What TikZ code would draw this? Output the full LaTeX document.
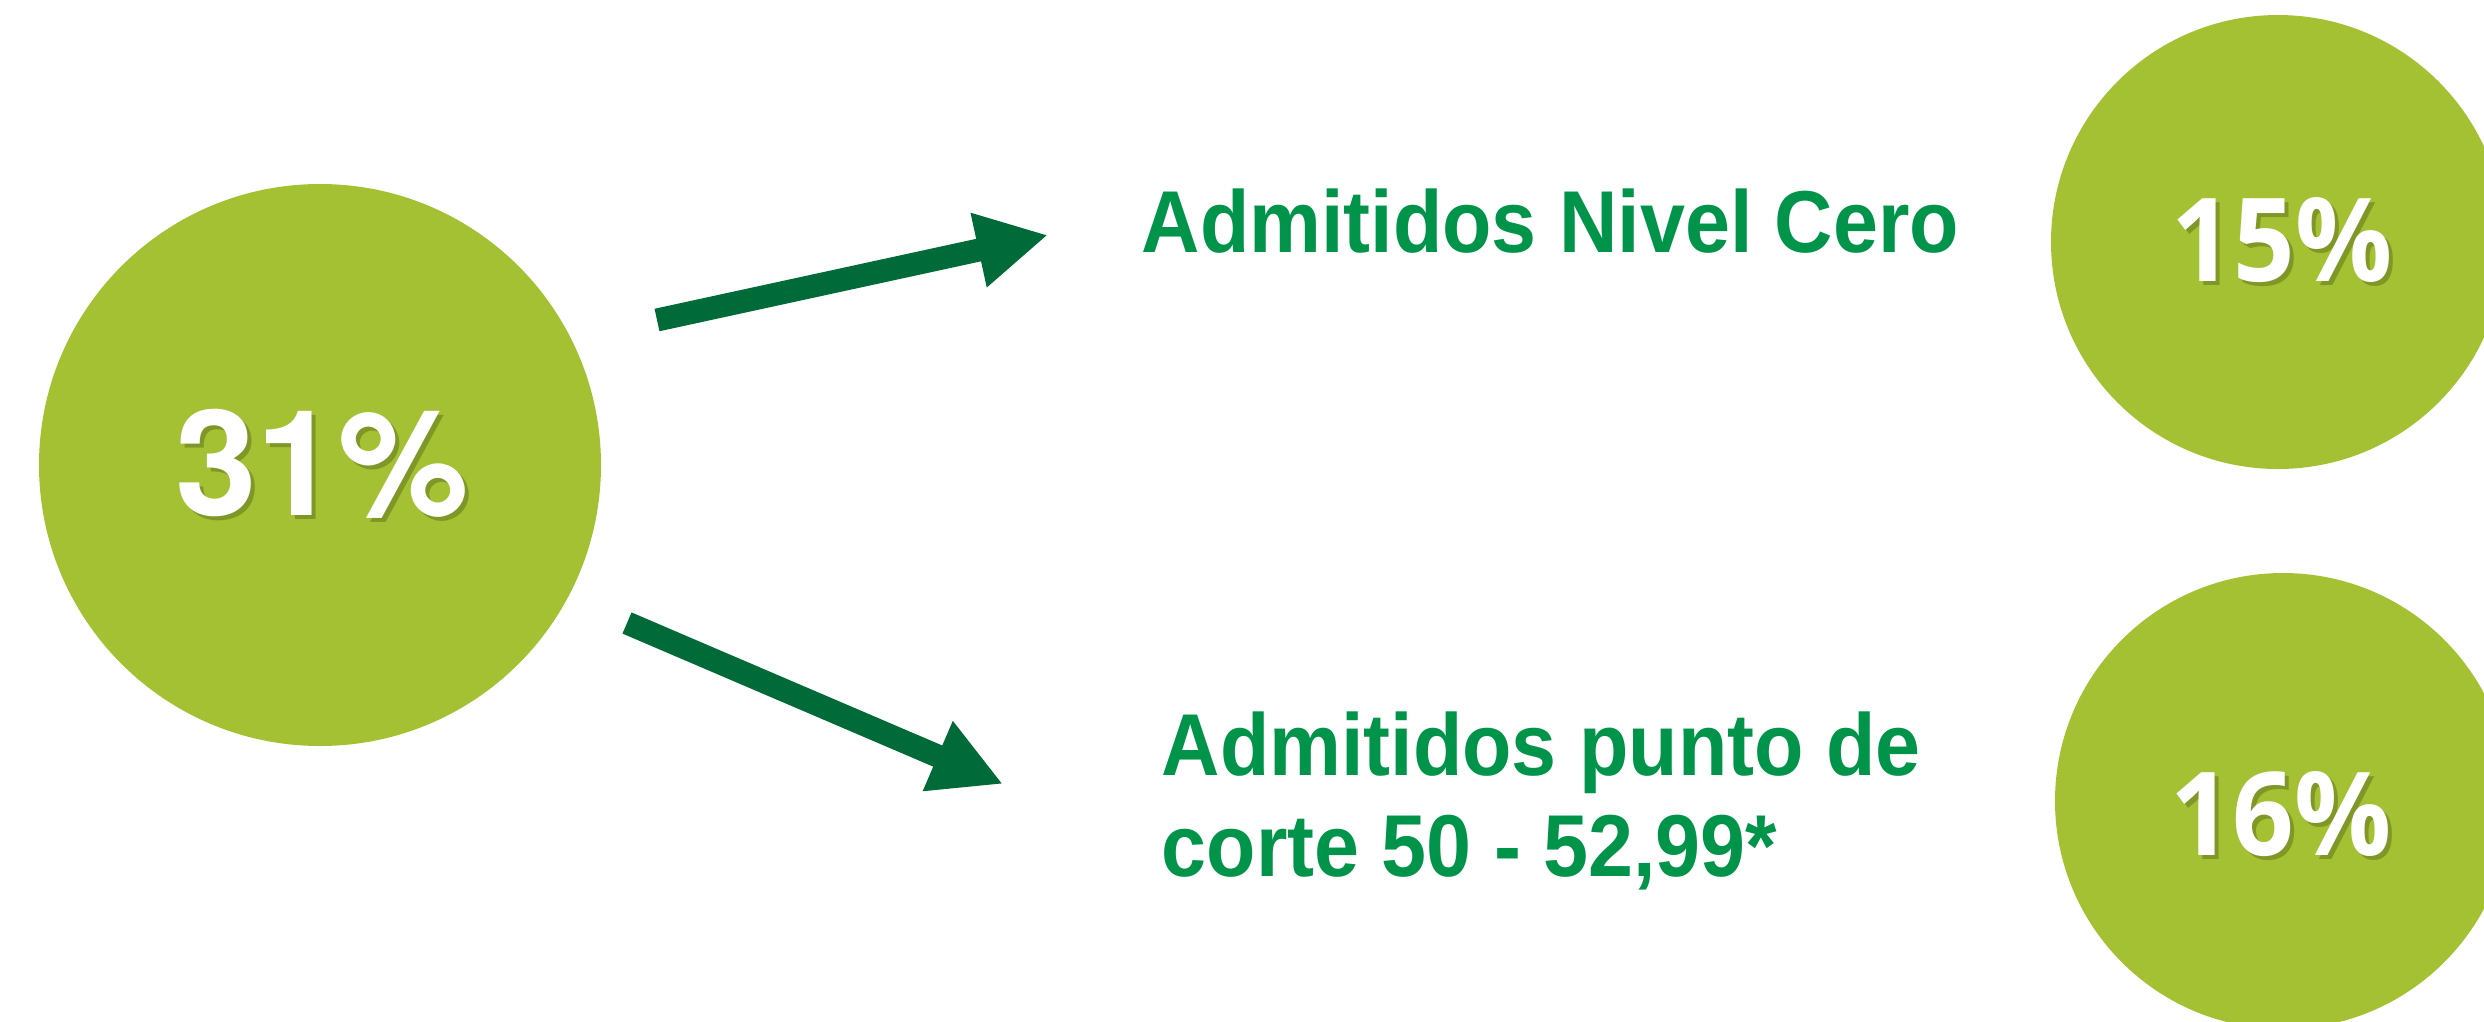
\documentclass[tikz,border=0pt]{standalone}
\usepackage{fontspec}
\usepackage{xcolor}
\usepackage{tikz}
\usetikzlibrary{arrows.meta}
\usetikzlibrary{positioning}
\newfontfamily\heroszfont{TeX Gyre Heros}
\newfontfamily\pctfont{Open Sans}[FakeStretch=0.93]
\newfontfamily\labelfont{Liberation Sans}[FakeStretch=0.92]
\definecolor{discgreen}{HTML}{A3C132}
\definecolor{textgreen}{HTML}{00934A}
\definecolor{arrowgreen}{HTML}{006B38}
\definecolor{shadowgreen}{HTML}{55661A}

\begin{document}
\begin{tikzpicture}[disc/.style={circle,fill=discgreen,inner sep=0pt},
	pct/.style={text=white,inner sep=0pt,anchor=base},
	pctshadow/.style={text=shadowgreen,opacity=0.45,inner sep=0pt,anchor=base},
	bigpct/.style={font=\heroszfont\bfseries\fontsize{41.8}{41.8}\selectfont},
	smallpct/.style={font=\pctfont\bfseries\fontsize{33}{33}\selectfont},
	lbl/.style={text=textgreen,inner sep=0pt,anchor=base west,align=left,font=\labelfont\bfseries\fontsize{25}{28.7}\selectfont},
	arr/.style={draw=arrowgreen,line width=0.23cm,-{Triangle[length=0.71cm,width=0.71cm]}}]
	 \useasboundingbox (0,0) rectangle (24.84,-10.21);
	 \clip (0,0) rectangle (24.84,-10.21);

	 \node at (3.20,-4.65) [disc,minimum size=5.62cm] (all) {};
	 \node at (22.78,-2.42) [disc,minimum size=4.54cm] (cero) {};
	 \node at (22.83,-8.01) [disc,minimum size=4.56cm] (corte) {};

	 \node at (3.26,-5.19) [pctshadow,bigpct] (t31s) {31\%};
	 \node at (3.22,-5.15) [pct,bigpct] (t31) {31\%};
	 \node at (22.86,-2.85) [pctshadow,smallpct] (t15s) {15\%};
	 \node at (22.82,-2.81) [pct,smallpct] (t15) {15\%};
	 \node at (22.85,-8.59) [pctshadow,smallpct] (t16s) {16\%};
	 \node at (22.81,-8.55) [pct,smallpct] (t16) {16\%};

	 \node at (11.41,-2.52) [lbl] (nivel) {Admitidos Nivel Cero};
	 \node at (11.61,-8.76) [lbl] (punto) {Admitidos punto de\\corte 50 - 52,99*};

	 \coordinate (up0) at (6.57,-3.20);
	 \coordinate (up1) at (10.48,-2.35);
	 \coordinate (dn0) at (6.27,-6.23);
	 \coordinate (dn1) at (10.03,-7.84);

	 \draw[arr] (up0) -- (up1);
	 \draw[arr] (dn0) -- (dn1);

\end{tikzpicture}
\end{document}
